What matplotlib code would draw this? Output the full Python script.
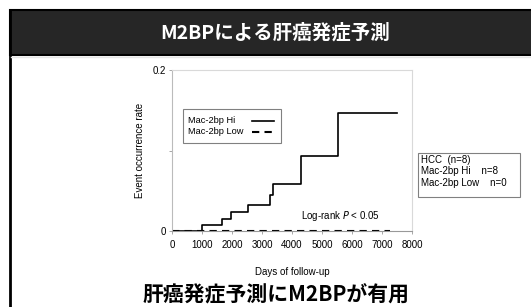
import matplotlib
matplotlib.use('Agg')
import matplotlib.pyplot as plt
from matplotlib.patches import Rectangle
from matplotlib.lines import Line2D

W, H = 531, 307

# data
hi_days = [0, 990, 1650, 1970, 2520, 3270, 3360, 4300, 5520, 7490]
hi_rate = [0, 0.0075, 0.0145, 0.024, 0.032, 0.045, 0.059, 0.093, 0.147, 0.147]
low_days = [0, 7250]
low_rate = [0, 0]
xticks = [0, 1000, 2000, 3000, 4000, 5000, 6000, 7000, 8000]
yticks = [0, 0.1, 0.2]
ytick_labels = ['0', '', '0.2']
legend_labels = ['Mac-2bp Hi', 'Mac-2bp Low']
box_lines = ['HCC  (n=8)', 'Mac-2bp Hi    n=8', 'Mac-2bp Low    n=0']
title = 'M2BPによる肝癌発症予測'
footer = '肝癌発症予測にM2BPが有用'

jp = ['Noto Sans CJK JP', 'DejaVu Sans']
plt.rcParams['font.family'] = ['Liberation Sans', 'DejaVu Sans']

def fx(x):
	return x / W

def fy(y):
	return 1 - y / H

fig = plt.figure(figsize=(W / 100, H / 100), dpi=100)
fig.patch.set_facecolor('white')

# title bar and left rule
fig.patches.append(Rectangle((fx(10), fy(55)), 1.0, fy(10) - fy(55), transform=fig.transFigure,
	facecolor='#262626', edgecolor='black', linewidth=1.5, zorder=1))
fig.add_artist(Line2D([fx(10), fx(10)], [0, fy(10)], color='black', linewidth=2))
fig.add_artist(Line2D([fx(11), 1], [fy(56.5), fy(56.5)], color='#e6e6e6', linewidth=1))
fig.text(fx(275), fy(33), title, color='white', fontsize=14, fontweight='bold',
	family=jp, ha='center', va='center')

ax = fig.add_axes([fx(172), fy(231), fx(412) - fx(172), fy(70) - fy(231)])
hi_line, = ax.step(hi_days, hi_rate, where='post', color='black', linewidth=1.2)
low_line, = ax.plot(low_days, low_rate, color='black', linewidth=1.5, dashes=(3.5, 2.5))
ax.set_xlim(0, 8000)
ax.set_ylim(0, 0.2)
ax.set_xticks(xticks)
ax.set_yticks(yticks)
ax.set_yticklabels(ytick_labels)
ax.tick_params(labelsize=7, length=2.5, width=0.6, color='#999999', pad=2)
ax.tick_params(axis='x', pad=4)
for s in ax.spines.values():
	s.set_color('#d9d9d9')
	s.set_linewidth(0.8)
ax.spines['bottom'].set_color('#999999')
ax.spines['left'].set_color('#bbbbbb')

ax.text(5600, 0.0185, 'Log-rank $\\it{P}$ < 0.05', fontsize=7, ha='center', va='center')

# legend box drawn by hand: labels left, line samples on the right
fig.patches.append(Rectangle((fx(183), fy(143)), fx(281) - fx(183), fy(109) - fy(143),
	transform=fig.transFigure, facecolor='white', edgecolor='#808080', linewidth=0.8, zorder=3))
for i, (lab, ref) in enumerate(zip(legend_labels, [hi_line, low_line])):
	y = fy(121 + 10.5 * i)
	fig.text(fx(188), y, lab, fontsize=6.7, ha='left', va='center', zorder=4)
	fig.add_artist(Line2D([fx(252), fx(274)], [y, y], color='black', linewidth=ref.get_linewidth(),
		linestyle=ref.get_linestyle(), dashes=(3.5, 2.5) if i else (None, None), zorder=4))

fig.text(fx(140), fy(150), 'Event occurrence rate', rotation=90, fontsize=7, ha='center', va='center')
fig.text(fx(292), fy(272), 'Days of follow-up', fontsize=7, ha='center', va='center')

fig.patches.append(Rectangle((fx(418), fy(197)), fx(520) - fx(418), fy(153) - fy(197),
	transform=fig.transFigure, facecolor='white', edgecolor='#808080', linewidth=0.8))
for i, line in enumerate(box_lines):
	fig.text(fx(421), fy(160 + 11.5 * i), line, fontsize=7, ha='left', va='center')

fig.text(fx(276), fy(295), footer, fontsize=15, fontweight='bold', family=jp,
	ha='center', va='center')

fig.savefig('out.png', dpi=100)
